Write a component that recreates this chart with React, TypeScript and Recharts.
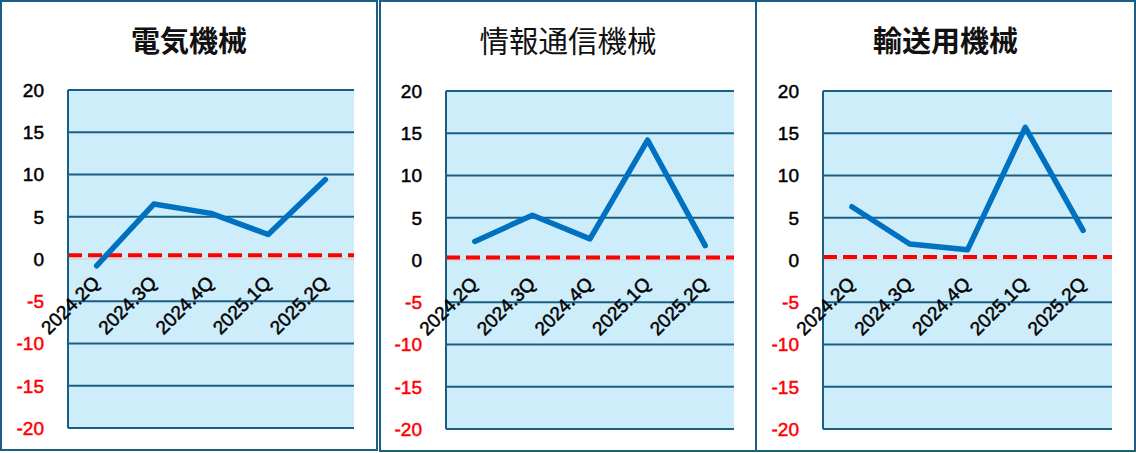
import React from "react";
import { LineChart, Line, XAxis, YAxis, CartesianGrid, ReferenceLine } from "recharts";

const quarters = ["2024.2Q", "2024.3Q", "2024.4Q", "2025.1Q", "2025.2Q"];
const denki = [-0.8, 6.5, 5.4, 2.9, 9.4];
const joho = [2.2, 5.3, 2.5, 14.2, 1.7];
const yuso = [6.3, 1.9, 1.2, 15.7, 3.5];
const yTicks = [-20, -15, -10, -5, 0, 5, 10, 15, 20];
const thresholds = [0.45, 0.3, 0.35];

const BORDER = "#1A5E83";
const FILL = "#CDEDFB";
const LINE = "#0070C0";
const FONT = "'Liberation Sans', Arial, sans-serif";
const CJK = "'Noto Sans CJK JP', sans-serif";

type Panel = {
  title: string;
  bold: boolean;
  values: number[];
  threshold: number;
  box: { left: number; width: number; height: number };
  plot: { left: number; right: number; top: number; bottom: number };
};

const panels: Panel[] = [
  {
    title: "電気機械",
    bold: true,
    values: denki,
    threshold: thresholds[0],
    box: { left: 0, width: 378, height: 451 },
    plot: { left: 68, right: 354, top: 90, bottom: 428 },
  },
  {
    title: "情報通信機械",
    bold: false,
    values: joho,
    threshold: thresholds[1],
    box: { left: 379, width: 378, height: 452 },
    plot: { left: 446, right: 734, top: 91, bottom: 429 },
  },
  {
    title: "輸送用機械",
    bold: true,
    values: yuso,
    threshold: thresholds[2],
    box: { left: 755, width: 381, height: 452 },
    plot: { left: 823, right: 1112, top: 91, bottom: 429 },
  },
];

const AXIS_W = 60;
const BOTTOM_PAD = 20;

function YTick(props: any) {
  const { x, y, payload } = props;
  const v = payload.value;
  const c = v < 0 ? "#FF0000" : "#000";
  return (
    <text x={x} y={y} dy="0.36em" textAnchor="end" fontSize={19} fontFamily={FONT} fill={c} stroke={c} strokeWidth={0.5}>
      {v}
    </text>
  );
}

function makeXTick(zeroY: number) {
  return function XTick(props: any) {
    const { x, payload } = props;
    const tx = x + 4;
    const ty = zeroY + 25;
    return (
      <text
        x={tx}
        y={ty}
        textAnchor="end"
        fontSize={19}
        fontFamily={FONT}
        fill="#000"
        stroke="#000"
        strokeWidth={0.5}
        transform={`rotate(-45 ${tx} ${ty})`}
      >
        {payload.value}
      </text>
    );
  };
}

function PanelChart({ p }: { p: Panel }) {
  const data = quarters.map((q, i) => ({ q, v: p.values[i] }));
  const plotW = p.plot.right - p.plot.left;
  const zeroY = (p.plot.top + p.plot.bottom) / 2;
  return (
    <>
      <div
        style={{
          position: "absolute",
          left: p.box.left,
          top: 0,
          width: p.box.width - 4,
          height: p.box.height - 4,
          border: `2px solid ${BORDER}`,
          background: "#fff",
        }}
      />
      <div
        style={{
          position: "absolute",
          left: p.box.left,
          top: 19,
          width: p.box.width,
          textAlign: "center",
          fontFamily: CJK,
          fontSize: p.bold ? 29 : 29.5,
          fontWeight: p.bold ? 700 : 400,
          lineHeight: "40px",
          color: "#111",
        }}
      >
        {p.title}
      </div>
      <div style={{ position: "absolute", left: p.plot.left - AXIS_W, top: 0 }}>
        <LineChart
          width={plotW + AXIS_W + 6}
          height={p.plot.bottom + BOTTOM_PAD + 2}
          data={data}
          margin={{ top: p.plot.top, right: 6, bottom: BOTTOM_PAD, left: 0 }}
        >
          <CartesianGrid yAxisId="l" vertical={false} stroke={BORDER} strokeWidth={2} fill={FILL} fillOpacity={1} />
          <XAxis
            dataKey="q"
            scale="band"
            height={2}
            axisLine={false}
            tickLine={false}
            interval={0}
            tick={makeXTick(zeroY)}
          />
          <YAxis
            yAxisId="l"
            width={AXIS_W}
            domain={[-20, 20]}
            ticks={yTicks}
            interval={0}
            tickLine={false}
            tickSize={0}
            tickMargin={24}
            axisLine={{ stroke: BORDER, strokeWidth: 2 }}
            tick={<YTick />}
          />
          <YAxis
            yAxisId="r"
            orientation="right"
            width={0}
            domain={[-20, 20]}
            tick={false}
            tickLine={false}
            axisLine={{ stroke: BORDER, strokeWidth: 2 }}
          />
          <ReferenceLine yAxisId="l" y={0} stroke="#D9D9D9" strokeWidth={2} />
          <ReferenceLine yAxisId="l" y={p.threshold} stroke="#FF0000" strokeWidth={4} strokeDasharray="14 6" />
          <Line
            yAxisId="l"
            dataKey="v"
            type="linear"
            stroke={LINE}
            strokeWidth={5.5}
            strokeLinecap="round"
            strokeLinejoin="round"
            dot={false}
            activeDot={false}
            isAnimationActive={false}
          />
        </LineChart>
      </div>
    </>
  );
}

export default function App() {
  return (
    <div style={{ position: "absolute", left: 0, top: 0, width: 1136, height: 453, background: "#fff", overflow: "hidden" }}>
      {panels.map((p) => (
        <PanelChart key={p.title} p={p} />
      ))}
    </div>
  );
}
